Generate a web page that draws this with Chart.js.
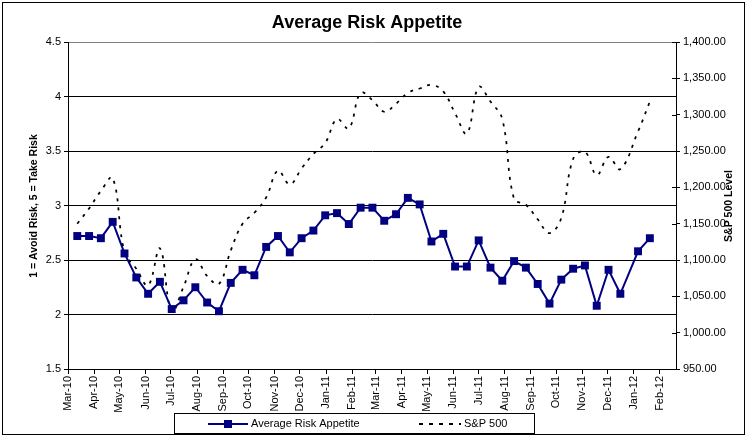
<!DOCTYPE html>
<html>
<head>
<meta charset="utf-8">
<script src="https://cdn.jsdelivr.net/npm/chart.js@4.4.0/dist/chart.umd.min.js"></script>
<style>
  html, body { margin: 0; padding: 0; background: #fff; }
  #wrap { width: 748px; height: 438px; }
</style>
</head>
<body>
<div id="wrap"><canvas id="myChart" width="748" height="438"></canvas></div>
<script>
// survey dates (every two weeks)
const dates = [
  "2010-03-12", "2010-03-26", "2010-04-09", "2010-04-23", "2010-05-07", "2010-05-21",
  "2010-06-04", "2010-06-18", "2010-07-02", "2010-07-16", "2010-07-30", "2010-08-13",
  "2010-08-27", "2010-09-10", "2010-09-24", "2010-10-08", "2010-10-22", "2010-11-05",
  "2010-11-19", "2010-12-03", "2010-12-17", "2010-12-31", "2011-01-14", "2011-01-28",
  "2011-02-11", "2011-02-25", "2011-03-11", "2011-03-25", "2011-04-08", "2011-04-22",
  "2011-05-06", "2011-05-20", "2011-06-03", "2011-06-17", "2011-07-01", "2011-07-15",
  "2011-07-29", "2011-08-12", "2011-08-26", "2011-09-09", "2011-09-23", "2011-10-07",
  "2011-10-21", "2011-11-04", "2011-11-18", "2011-12-02", "2011-12-16", "2012-01-06",
  "2012-01-20"
];

const riskAppetite = [
  2.72, 2.72, 2.70, 2.85, 2.56, 2.34, 2.19, 2.30, 2.05, 2.13, 2.25, 2.11,
  2.03, 2.29, 2.41, 2.36, 2.62, 2.72, 2.57, 2.70, 2.77, 2.91, 2.93, 2.83,
  2.98, 2.98, 2.86, 2.92, 3.07, 3.01, 2.67, 2.74, 2.44, 2.44, 2.68, 2.43,
  2.31, 2.49, 2.43, 2.28, 2.10, 2.32, 2.42, 2.45, 2.08, 2.41, 2.19, 2.58,
  2.70
];

const sp500 = [
  1150, 1171, 1195, 1213, 1111, 1088, 1065, 1116, 1029, 1063, 1101, 1078,
  1067, 1113, 1150, 1165, 1186, 1223, 1204, 1226, 1246, 1261, 1294, 1281,
  1330, 1320, 1304, 1315, 1330, 1336, 1341, 1332, 1302, 1274, 1338, 1318,
  1294, 1184, 1176, 1156, 1137, 1158, 1239, 1249, 1217, 1242, 1225, 1277,
  1318
];

const monthLabels = [
  "Mar-10", "Apr-10", "May-10", "Jun-10", "Jul-10", "Aug-10", "Sep-10", "Oct-10",
  "Nov-10", "Dec-10", "Jan-11", "Feb-11", "Mar-11", "Apr-11", "May-11", "Jun-11",
  "Jul-11", "Aug-11", "Sep-11", "Oct-11", "Nov-11", "Dec-11", "Jan-12", "Feb-12"
];

const riskTicks = [1.5, 2, 2.5, 3, 3.5, 4, 4.5];
const spTicks = [950, 1000, 1050, 1100, 1150, 1200, 1250, 1300, 1350, 1400];

const FONT = "'Liberation Sans', Arial, sans-serif";
const NAVY = "#000080";
const SP_DASH = [3, 6];

// days counted from 1 Mar 2010
const base = Date.UTC(2010, 2, 1);
function dayNum(s) {
  const p = s.split("-");
  return (Date.UTC(+p[0], +p[1] - 1, +p[2]) - base) / 86400000;
}
const monNames = ["Jan", "Feb", "Mar", "Apr", "May", "Jun", "Jul", "Aug", "Sep", "Oct", "Nov", "Dec"];
const monthDays = monthLabels.map(function (l) {
  const m = monNames.indexOf(l.slice(0, 3));
  const y = 2000 + parseInt(l.slice(4), 10);
  return (Date.UTC(y, m, 1) - base) / 86400000;
});

const riskPts = dates.map((d, i) => ({ x: dayNum(d), y: riskAppetite[i] }));
const spPts = dates.map((d, i) => ({ x: dayNum(d), y: sp500[i] }));

// background, frame, title, axis titles, legend
const decor = {
  id: "decor",
  beforeDraw(chart) {
    const c = chart.ctx;
    c.save();
    c.fillStyle = "#fff";
    c.fillRect(0, 0, chart.width, chart.height);
    c.restore();
  },
  afterDraw(chart) {
    const c = chart.ctx;
    const a = chart.chartArea;
    const y1 = chart.scales.y1;
    c.save();
    // right axis ticks cross the axis line
    c.strokeStyle = "#000";
    c.lineWidth = 1;
    spTicks.forEach(function (v) {
      const py = Math.round(y1.getPixelForValue(v)) + 0.5;
      c.beginPath();
      c.moveTo(a.right - 4, py);
      c.lineTo(a.right, py);
      c.stroke();
    });

    // outer frame
    c.strokeRect(2.5, 2.5, 742, 432);

    // title
    c.fillStyle = "#000";
    c.font = "bold 18px " + FONT;
    c.textAlign = "center";
    c.textBaseline = "alphabetic";
    c.fillText("Average Risk Appetite", 367, 28);

    // axis titles
    c.font = "bold 10.5px " + FONT;
    c.textBaseline = "middle";
    c.save();
    c.translate(34, 206);
    c.rotate(-Math.PI / 2);
    c.fillText("1 = Avoid Risk, 5 = Take Risk", 0, 0);
    c.restore();
    c.save();
    c.translate(729, 206);
    c.rotate(-Math.PI / 2);
    c.fillText("S&P 500 Level", 0, 0);
    c.restore();

    // legend
    c.strokeStyle = "#000";
    c.strokeRect(174.5, 413.5, 360, 20);
    const ly = 424;
    c.strokeStyle = NAVY;
    c.lineWidth = 2;
    c.beginPath();
    c.moveTo(208, ly);
    c.lineTo(248, ly);
    c.stroke();
    c.fillStyle = NAVY;
    c.fillRect(224, ly - 4, 8, 8);
    c.strokeStyle = "#000";
    c.lineWidth = 2;
    c.setLineDash([4, 6]);
    c.beginPath();
    c.moveTo(419, ly);
    c.lineTo(461, ly);
    c.stroke();
    c.setLineDash([]);
    c.fillStyle = "#000";
    c.font = "11px " + FONT;
    c.textAlign = "left";
    c.fillText("Average Risk Appetite", 251, ly);
    c.fillText("S&P 500", 464, ly);
    c.restore();
  }
};

const config = {
  type: "line",
  data: {
    datasets: [
      {
        label: "Average Risk Appetite",
        data: riskPts,
        yAxisID: "y",
        borderColor: NAVY,
        backgroundColor: NAVY,
        borderWidth: 2,
        pointStyle: "rect",
        pointRadius: 5.6,
        pointBorderWidth: 0,
        tension: 0
      },
      {
        label: "S&P 500",
        data: spPts,
        yAxisID: "y1",
        borderColor: "#000",
        borderWidth: 1.75,
        borderDash: SP_DASH,
        pointRadius: 0,
        tension: 0.4
      }
    ]
  },
  options: {
    responsive: false,
    animation: false,
    devicePixelRatio: 1,
    layout: { padding: { top: 42, left: 0, right: 0, bottom: 0 } },
    plugins: { legend: { display: false }, title: { display: false }, tooltip: { enabled: false } },
    scales: {
      x: {
        type: "linear",
        min: 0,
        max: 721,
        afterBuildTicks: function (scale) {
          scale.ticks = monthDays.map((v) => ({ value: v }));
        },
        afterFit: function (scale) { scale.height = 69; },
        grid: { drawOnChartArea: false, tickLength: 5, color: "#000" },
        border: { color: "#000" },
        ticks: {
          autoSkip: false,
          maxRotation: 90,
          minRotation: 90,
          padding: 2,
          color: "#000",
          font: { family: FONT, size: 11 },
          callback: function (v, i) { return monthLabels[i]; }
        }
      },
      y: {
        position: "left",
        min: 1.5,
        max: 4.5,
        afterBuildTicks: function (scale) {
          scale.ticks = riskTicks.map((v) => ({ value: v }));
        },
        afterFit: function (scale) { scale.width = 68; },
        grid: {
          color: (ctx) => (ctx.tick && ctx.tick.value === 4.5 ? "#808080" : "#000"),
          tickColor: "#000",
          tickLength: 4
        },
        border: { color: "#000" },
        ticks: {
          padding: 3,
          color: "#000",
          font: { family: FONT, size: 11 },
          callback: (v) => String(v)
        }
      },
      y1: {
        position: "right",
        min: 950,
        max: 1400,
        afterBuildTicks: function (scale) {
          scale.ticks = spTicks.map((v) => ({ value: v }));
        },
        afterFit: function (scale) { scale.width = 72; },
        grid: { drawOnChartArea: false, color: "#000", tickLength: 4 },
        border: { color: "#000" },
        ticks: {
          padding: 3,
          color: "#000",
          font: { family: FONT, size: 11 },
          callback: (v) => v.toLocaleString("en-US", { minimumFractionDigits: 2, maximumFractionDigits: 2 })
        }
      }
    }
  },
  plugins: [decor]
};

const myChart = new Chart(document.getElementById("myChart"), config);
</script>
</body>
</html>
